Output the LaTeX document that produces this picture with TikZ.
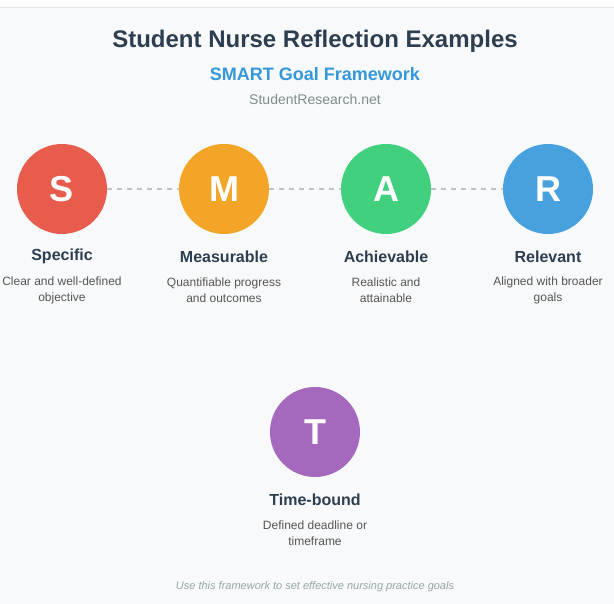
\documentclass[tikz,border=0pt]{standalone}
\usepackage{fontspec}
\setmainfont{Liberation Sans}
\definecolor{bgc}{HTML}{F8F9FA}
\definecolor{topline}{HTML}{E2E4E6}
\definecolor{titlec}{HTML}{2C3E50}
\definecolor{subc}{HTML}{3498DB}
\definecolor{sitec}{HTML}{7F8C8D}
\definecolor{descc}{HTML}{555555}
\definecolor{footc}{HTML}{95A5A6}
\definecolor{dashc}{HTML}{BDC3C7}
\definecolor{cS}{HTML}{E74C3C}
\definecolor{cM}{HTML}{F39C12}
\definecolor{cA}{HTML}{2ECC71}
\definecolor{cR}{HTML}{3498DB}
\definecolor{cT}{HTML}{9B59B6}
\tikzset{
  goal/.style={circle, minimum size=90pt, inner sep=0pt, fill=#1, fill opacity=0.9, text opacity=1, text=white, font=\fontsize{36}{40}\selectfont\bfseries},
  glabel/.style={font=\fontsize{16}{19}\selectfont\bfseries, text=titlec},
  gdesc/.style={font=\fontsize{12}{16}\selectfont, text=descc, align=center},
  link/.style={draw=dashc, line width=1.5pt, dash pattern=on 5pt off 5pt}
}
\begin{document}
\begin{tikzpicture}[x=1pt,y=-1pt]
\useasboundingbox (0,0) rectangle (614,604);
\fill[white] (0,0) rectangle (614,604);
\fill[bgc] (0,7) rectangle (614,604);
\draw[topline, line width=1pt] (0,7.5) -- (614,7.5);
\node[font=\fontsize{24}{28}\selectfont\bfseries, text=titlec] (title) at (315,41) {Student Nurse Reflection Examples};
\node[font=\fontsize{18}{21}\selectfont\bfseries, text=subc] (sub) at (315,74) {SMART Goal Framework};
\node[font=\fontsize{14}{17}\selectfont, text=sitec] (site) at (315,99.5) {StudentResearch.net};

\node[goal=cS] (S) at (62,189) {S};
\node[goal=cM] (M) at (224,189) {M};
\node[goal=cA] (A) at (386,189) {A};
\node[goal=cR] (R) at (548,189) {R};
\node[goal=cT] (T) at (315,432) {T};

\draw[link] (S) -- (M);
\draw[link] (M) -- (A);
\draw[link] (A) -- (R);

\node[glabel] (lS) at (62,256.5) {Specific};
\node[glabel] (lM) at (224,256.5) {Measurable};
\node[glabel] (lA) at (386,256.5) {Achievable};
\node[glabel] (lR) at (548,256.5) {Relevant};
\node[glabel] (lT) at (315,499.5) {Time-bound};

\node[gdesc] (dS) at (62,290.5) {Clear and well-defined\\objective};
\node[gdesc] (dM) at (224,290.5) {Quantifiable progress\\and outcomes};
\node[gdesc] (dA) at (386,290.5) {Realistic and\\attainable};
\node[gdesc] (dR) at (548,290.5) {Aligned with broader\\goals};
\node[gdesc] (dT) at (315,533.5) {Defined deadline or\\timeframe};

\node[font=\fontsize{11}{13}\selectfont\itshape, text=footc] (foot) at (315,587) {Use this framework to set effective nursing practice goals};
\end{tikzpicture}
\end{document}
